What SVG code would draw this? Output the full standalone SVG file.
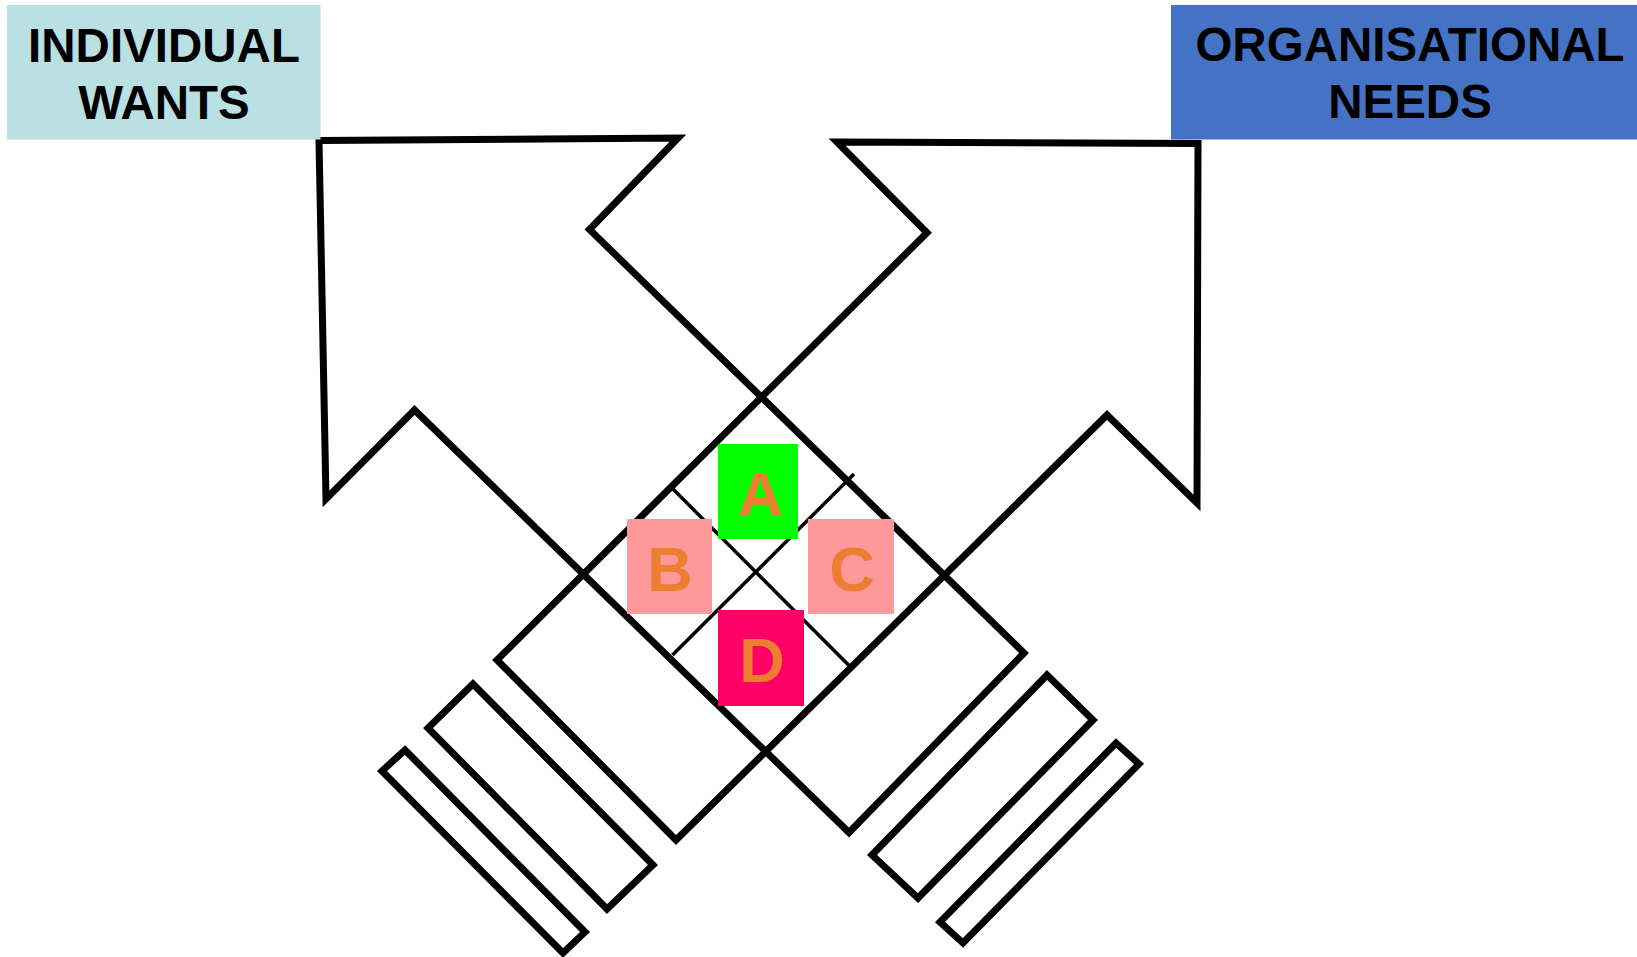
<svg xmlns="http://www.w3.org/2000/svg" width="1637" height="957" viewBox="0 0 1637 957">
<style>
.title{font-family:"Liberation Sans",Arial,sans-serif;font-weight:bold;font-size:47.5px;fill:#000;text-anchor:middle}
.shape{fill:none;stroke:#000;stroke-width:7;stroke-linejoin:miter;stroke-miterlimit:20}
.thin{fill:none;stroke:#000;stroke-width:3.5}
.letter{font-family:"Liberation Sans",Arial,sans-serif;font-weight:bold;font-size:63px;fill:#ED7D31;text-anchor:middle}
</style>
<rect x="0" y="0" width="1637" height="957" fill="#fff"/>
<g id="connectors">
<polygon id="arrow-left" class="shape" points="319,140.5 678,138 589.5,229.5 1024,653 849,832.5 414.5,410 326,499"/>
<polygon id="arrow-right" class="shape" points="837,142 1198,143.5 1197,503 1107,415 676,840 497,660 927,232.7"/>
<line class="thin" x1="671" y1="487" x2="849" y2="665.5"/>
<line class="thin" x1="854" y1="474" x2="672.5" y2="655"/>
<polygon id="bar-left-1" class="shape" points="473,684 653,865 607,909 428,728"/>
<polygon id="bar-left-2" class="shape" points="405,750 585,932 563,953 382,771"/>
<polygon id="bar-right-1" class="shape" points="1047,675 1093,720 918,898 872,855"/>
<polygon id="bar-right-2" class="shape" points="1116,743 1139,764 963,943 940,922"/>
</g>
<g id="individual-wants">
<rect x="7" y="5" width="313.5" height="134.5" fill="#B9E0E2"/>
<text class="title" x="164" y="61.5">INDIVIDUAL</text>
<text class="title" x="164" y="119">WANTS</text>
</g>
<g id="organisational-needs">
<rect x="1171" y="5" width="466" height="134.5" fill="#4472C4"/>
<text class="title" x="1410" y="61">ORGANISATIONAL</text>
<text class="title" x="1410" y="118.3">NEEDS</text>
</g>
<g id="box-a">
<rect x="718" y="444" width="80" height="95" fill="#00FF00"/>
<text class="letter" x="760.5" y="515.5">A</text>
</g>
<g id="box-b">
<rect x="627" y="519" width="85" height="95" fill="#FF9999"/>
<text class="letter" x="670" y="591">B</text>
</g>
<g id="box-c">
<rect x="808" y="519" width="86" height="95" fill="#FF9999"/>
<text class="letter" x="852" y="591">C</text>
</g>
<g id="box-d">
<rect x="718" y="610" width="86" height="96" fill="#FF0066"/>
<text class="letter" x="762" y="682">D</text>
</g>
</svg>
